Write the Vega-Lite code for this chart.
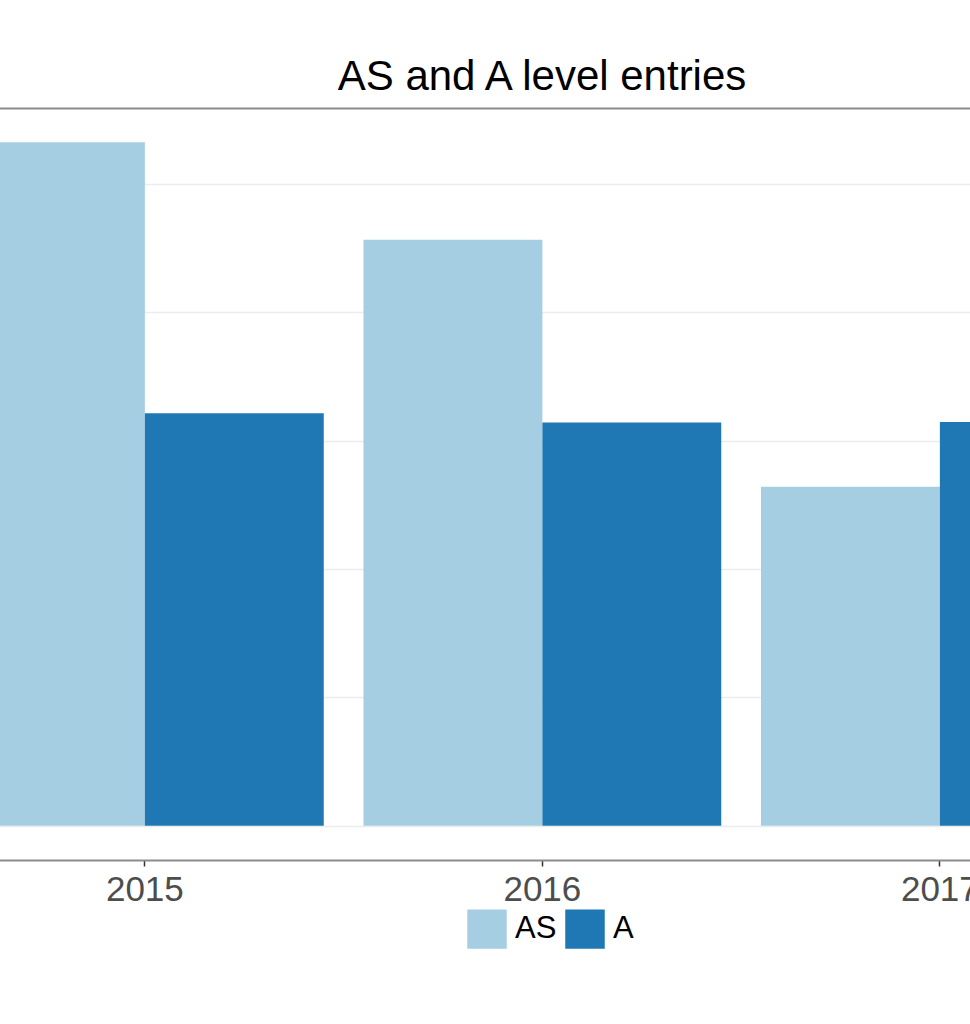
{
  "$schema": "https://vega.github.io/schema/vega-lite/v6.json",
  "width": 970,
  "height": 752,
  "autosize": "none",
  "padding": {"left": 0, "top": 108, "right": 0, "bottom": 164},
  "title": {
    "text": "AS and A level entries",
    "font": "Liberation Sans",
    "fontSize": 42,
    "fontWeight": "normal",
    "color": "#000000",
    "anchor": "middle",
    "dx": 57,
    "offset": 9
  },
  "config": {
    "view": {"stroke": null},
    "axis": {"labelFont": "Liberation Sans"},
    "legend": {"labelFont": "Liberation Sans"}
  },
  "data": {
    "values": [
      {"year": "2015", "level": "AS", "entries": 1331},
      {"year": "2015", "level": "A", "entries": 803},
      {"year": "2016", "level": "AS", "entries": 1141},
      {"year": "2016", "level": "A", "entries": 785},
      {"year": "2017", "level": "AS", "entries": 660},
      {"year": "2017", "level": "A", "entries": 786}
    ]
  },
  "layer": [
    {
      "mark": {"type": "bar", "clip": true},
      "encoding": {
        "x": {
          "field": "year",
          "type": "nominal",
          "scale": {"range": [-34, 1118.75], "paddingInner": 0.1, "paddingOuter": 0},
          "axis": {
            "title": null,
            "labelAngle": 0,
            "labelFontSize": 35,
            "labelColor": "#4d4d4d",
            "labelPadding": 6,
            "grid": false,
            "domainColor": "#8c8c8c",
            "domainWidth": 2,
            "tickColor": "#333333",
            "tickWidth": 1.5,
            "tickSize": 6
          }
        },
        "xOffset": {"field": "level", "type": "nominal", "sort": ["AS", "A"]},
        "y": {
          "field": "entries",
          "type": "quantitative",
          "scale": {"domain": [-66.5, 1397.5], "nice": false, "zero": false},
          "axis": {
            "title": null,
            "labels": false,
            "ticks": false,
            "domain": false,
            "grid": true,
            "gridColor": "#ececec",
            "gridWidth": 1.5,
            "values": [0, 250, 500, 750, 1000, 1250]
          }
        },
        "color": {
          "field": "level",
          "type": "nominal",
          "sort": ["AS", "A"],
          "scale": {"domain": ["AS", "A"], "range": ["#a6cee3", "#1f78b4"]},
          "legend": {
            "title": null,
            "orient": "none",
            "direction": "horizontal",
            "legendX": 467,
            "legendY": 801,
            "padding": 0,
            "symbolType": "square",
            "symbolSize": 1560,
            "symbolStrokeWidth": 0,
            "labelFontSize": 31,
            "labelColor": "#000000",
            "labelOffset": 8,
            "columnPadding": 8
          }
        }
      }
    },
    {
      "mark": {"type": "bar", "opacity": 0, "clip": true},
      "encoding": {
        "x": {
          "field": "year",
          "type": "nominal",
          "axis": {
            "orient": "top",
            "title": null,
            "labels": false,
            "ticks": false,
            "grid": false,
            "domainColor": "#8c8c8c",
            "domainWidth": 2
          }
        },
        "y": {"field": "entries", "type": "quantitative"}
      }
    }
  ],
  "resolve": {"axis": {"x": "independent"}}
}
